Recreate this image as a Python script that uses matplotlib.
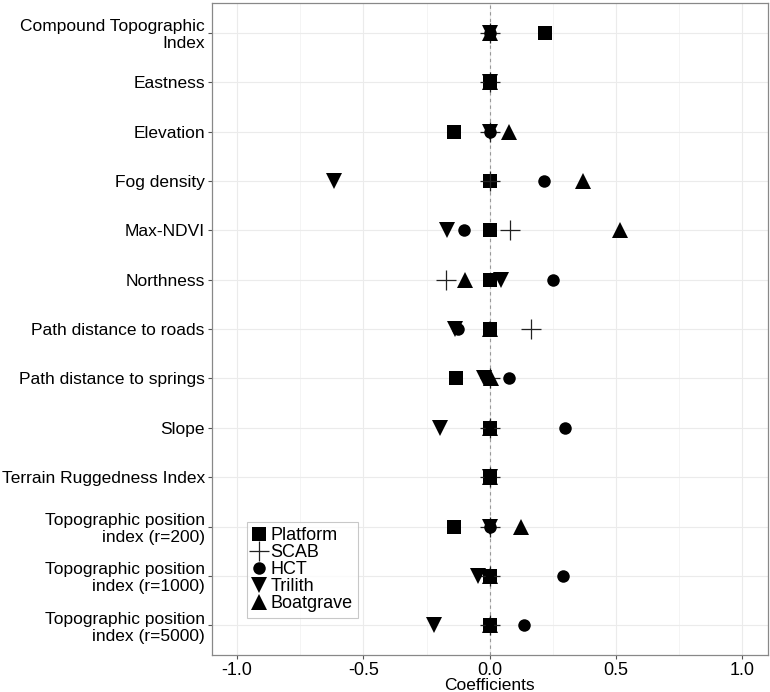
import numpy as np
import matplotlib
matplotlib.use("Agg")
import matplotlib.pyplot as plt

plt.rcParams['font.family'] = ['Liberation Sans', 'DejaVu Sans']

# Predictor labels, top to bottom
predictors = [
    "Compound Topographic\nIndex",
    "Eastness",
    "Elevation",
    "Fog density",
    "Max-NDVI",
    "Northness",
    "Path distance to roads",
    "Path distance to springs",
    "Slope",
    "Terrain Ruggedness Index",
    "Topographic position\nindex (r=200)",
    "Topographic position\nindex (r=1000)",
    "Topographic position\nindex (r=5000)",
]

# Coefficients per site type
platform  = [0.218, 0, -0.14, 0, 0, 0, 0, -0.134, 0, 0, -0.141, 0, 0]
scab      = [0, 0, 0, 0, 0.082, -0.173, 0.162, 0, 0, 0, 0, 0, 0]
hct       = [0, 0, 0, 0.213, -0.103, 0.249, -0.124, 0.077, 0.299, 0, 0, 0.289, 0.137]
trilith   = [0, 0, 0, -0.615, -0.169, 0.046, -0.139, -0.024, -0.196, 0, 0, -0.046, -0.221]
boatgrave = [0, 0, 0.077, 0.37, 0.517, -0.096, 0, 0.004, 0, 0, 0.123, 0, 0]

series = [
    ("Platform", platform, "s", 9.5),
    ("SCAB", scab, "+", 15),
    ("HCT", hct, "o", 9),
    ("Trilith", trilith, "v", 12),
    ("Boatgrave", boatgrave, "^", 12),
]

ypos = np.arange(len(predictors))

fig = plt.figure(figsize=(7.7, 6.92), dpi=100)
ax = fig.add_axes([0.275, 0.0535, 0.722, 0.942])

for name, vals, mk, ms in series:
    if mk == "+":
        ax.plot(vals, ypos, linestyle="none", marker=mk, markersize=ms,
                color="#222222", markeredgewidth=0.9, label=name, zorder=3)
    else:
        ax.plot(vals, ypos, linestyle="none", marker=mk, markersize=ms,
                color="black", markeredgewidth=0, label=name, zorder=3)

ax.axvline(0, color="#999999", linestyle=(0, (3, 3)), linewidth=0.8, zorder=1)

ax.set_xlim(-1.1, 1.1)
ax.set_ylim(len(predictors) - 0.4, -0.6)
ax.set_yticks(ypos)
ax.set_yticklabels(predictors, fontsize=12.5, ha="right", multialignment="right",
                   linespacing=1.15)
ax.set_xticks([-1.0, -0.5, 0.0, 0.5, 1.0])
ax.set_xticklabels(["-1.0", "-0.5", "0.0", "0.5", "1.0"], fontsize=13)
ax.set_xticks([-0.75, -0.25, 0.25, 0.75], minor=True)
ax.set_xlabel("Coefficients", fontsize=12.5, labelpad=-1)

ax.grid(True, which="major", color="#ebebeb", linewidth=0.8, zorder=0)
ax.grid(True, which="minor", axis="x", color="#f2f2f2", linewidth=0.6, zorder=0)
ax.set_axisbelow(True)
ax.tick_params(axis="both", which="major", length=3, color="#555555", pad=2)
ax.tick_params(axis="x", which="minor", length=0)
for sp in ax.spines.values():
    sp.set_color("#888888")
    sp.set_linewidth(0.9)

leg = ax.legend(loc="lower left", bbox_to_anchor=(0.063, 0.057), fontsize=13,
                frameon=True, fancybox=False, handlelength=0.8, handletextpad=0.2,
                labelspacing=0.0, borderpad=0.3, borderaxespad=0)
leg.get_frame().set_edgecolor("#bbbbbb")
leg.get_frame().set_linewidth(0.8)

fig.savefig("out.png", dpi=100)
